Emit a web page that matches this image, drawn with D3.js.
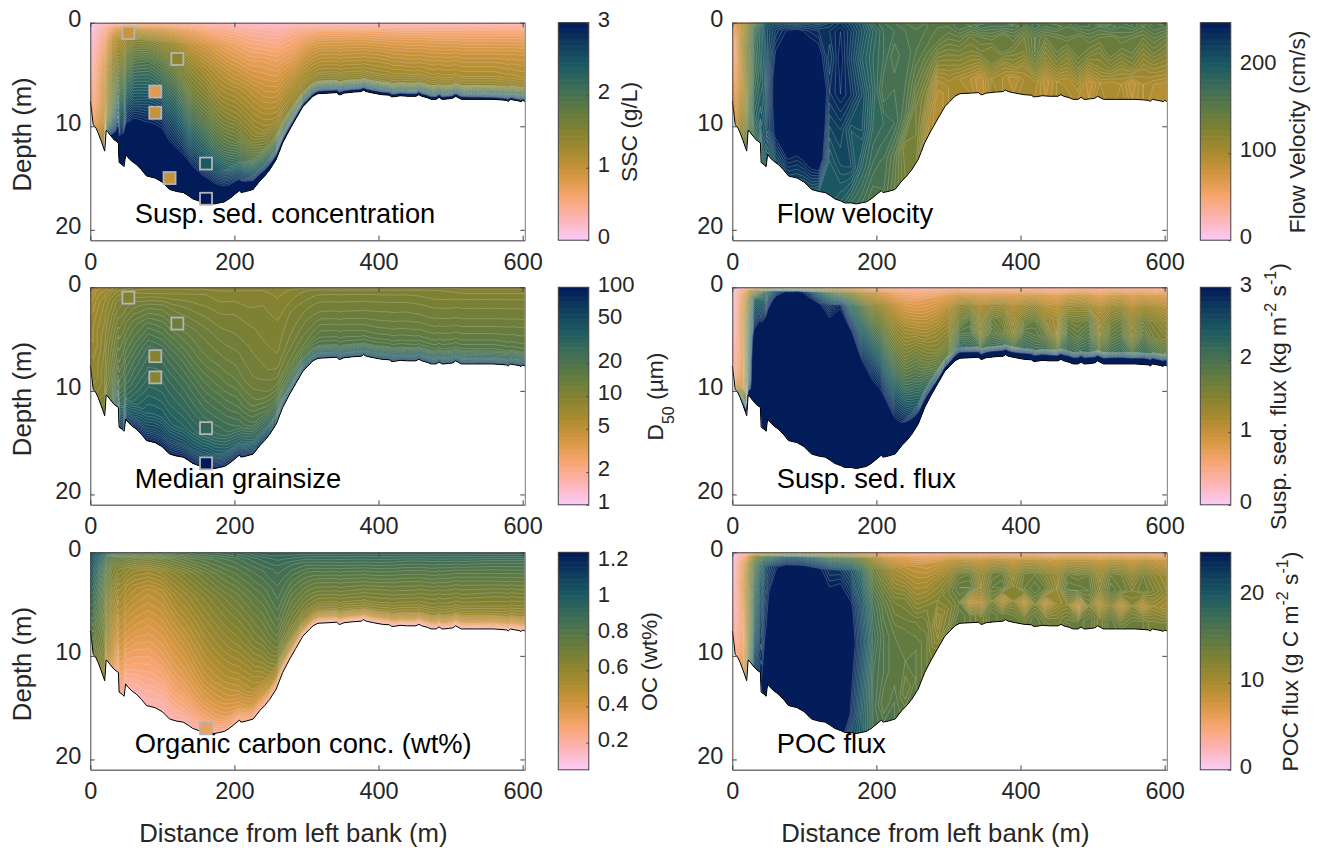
<!DOCTYPE html>
<html>
<head>
<meta charset="utf-8">
<script src="https://cdnjs.cloudflare.com/ajax/libs/d3/7.8.5/d3.min.js"></script>
<style>
body { margin: 0; background: #fff; }
text { font-family: "Liberation Sans", sans-serif; }
</style>
</head>
<body>
<div id="chart"></div>
<script>
// river bed
var bedDist = [0,2,4,8,11,15,20,22,24,27,33,39,40,44,47,49,52,58,64,71,78,90,100,110,120,129,136,142,150,156,165,172,179,186,193,200,207,209,216,226,235,242,249,258,262,267,276,285,295,302,309,316,330,342,345,347,352,365,376,379,383,393,405,415,418,422,430,440,452,456,460,468,473,480,484,488,491,497,503,507,515,530,545,559,570,578,580,583,590,595,598,600,603];
var bedDepth = [7.6,8.6,9.85,10.2,10.66,11.4,12.4,10.4,10.5,10.8,11.3,11.6,13.5,13.7,13.9,12.7,13,13.4,13.7,14.2,14.8,15,15.4,16.1,16.3,16.4,16.7,17,17.2,17.4,17.4,17.5,17.4,17.3,17,16.6,16.2,16.4,16.3,16.1,15.3,14.8,14.2,13.2,12.5,11.6,10.4,9.3,8.1,7.6,7.1,6.85,6.8,6.75,6.95,6.95,6.8,6.7,6.65,6.5,6.65,6.8,6.95,7,7.15,7.15,7.05,7.1,7.1,6.95,7.1,7.25,7.4,7.4,7.2,7.4,7.4,7.35,7.3,7.1,7.4,7.4,7.4,7.4,7.45,7.5,7.6,7.4,7.5,7.55,7.65,7.5,7.6];

// stations and relative depths (0 surface, 1 bed) of the value tables
var coarseStations = [0,10,20,30,40,60,80,100,120,140,160,180,200,220,240,260,280,300,320,360,400,440,480,520,560,603];
var coarseLevels = [0,.04,.12,.25,.4,.55,.7,.82,.92,1];
var fineStations = [0,15,30,45,60,75,90,105,120,135,150,165,180,195,210,225,240,255,270,285,300,315,330,345,360,375,390,405,420,435,450,465,480,495,510,525,540,555,570,585,603];
var velocityLevels = [0,.05,.2,.4,.6,.8,1];
var ssfLevels = [0,.03,.1,.25,.45,.65,.85,.93,1];
var pocLevels = [0,.03,.1,.3,.5,.7,.9,1];

var sscValues = [
[.03,.06,.1,.15,.2,.25,.32,.4,.45,.5],
[.12,.2,.3,.42,.55,.62,.68,.75,.85,1.1],
[.2,.35,.55,.75,.9,1,1.05,1.1,1.3,1.8],
[.3,.6,.95,1.15,1.35,1.5,1.7,2,2.5,3.2],
[.35,.8,1.15,1.4,1.7,2.05,2.5,3,3.4,3.6],
[.45,.95,1.45,1.85,2.2,2.55,3,3.4,3.6,3.6],
[.45,.9,1.5,1.95,2.3,2.7,3.1,3.5,3.6,3.6],
[.45,.85,1.35,1.8,2.2,2.65,3.05,3.4,3.6,3.6],
[.4,.75,1.2,1.55,2,2.4,2.8,3.2,3.6,3.6],
[.35,.65,1,1.35,1.65,2.05,2.5,3,3.5,3.6],
[.3,.55,.9,1.2,1.5,1.85,2.3,2.75,3.3,3.6],
[.28,.48,.75,1.05,1.3,1.6,2,2.5,3.05,3.6],
[.25,.42,.65,.9,1.2,1.45,1.8,2.2,2.9,3.6],
[.22,.38,.55,.8,1.1,1.3,1.55,1.95,2.7,3.6],
[.22,.35,.5,.75,.95,1.15,1.35,1.7,2.4,3.5],
[.2,.3,.45,.65,.85,1.05,1.25,1.55,2.2,3.4],
[.22,.34,.5,.65,.85,1.05,1.25,1.45,2.1,3.3],
[.24,.36,.55,.75,.95,1.1,1.25,1.45,2.2,3.3],
[.24,.38,.6,.8,1,1.15,1.3,1.5,2.4,3.4],
[.24,.38,.6,.82,1,1.15,1.3,1.5,2.4,3.4],
[.24,.38,.6,.8,1,1.15,1.28,1.48,2.4,3.4],
[.24,.38,.58,.78,.96,1.1,1.25,1.45,2.3,3.4],
[.24,.38,.58,.78,.95,1.1,1.22,1.45,2.3,3.4],
[.24,.38,.58,.76,.94,1.08,1.2,1.4,2.3,3.4],
[.26,.39,.58,.76,.94,1.08,1.2,1.4,2.2,3.3],
[.27,.4,.58,.76,.94,1.05,1.15,1.35,2.1,3.2]
];
var d50Values = [
[5,5.5,6,6.5,7,7,7.5,8,8,8.5],
[6,6.5,7,7.5,8,8,8.5,8.5,9,9.5],
[6.5,7,8,8.5,9,9.5,10,10,11,12],
[7,8,9,10,11,12,13,14,16,20],
[8,9,10.5,12,14,16,19,24,40,70],
[8.5,10,12,15,18,22,26,32,50,90],
[9,10,13,18,24,28,34,40,60,100],
[9,10,13,17,23,28,33,40,60,100],
[9,10,12,15,20,25,30,36,55,100],
[9,10,11.5,14,17,22,27,33,50,100],
[9,10,11,13,15,19,24,30,48,100],
[9,9.5,10.5,12,14,17,22,27,42,100],
[9,9.5,10.5,11.5,13,15,19,24,38,90],
[9,9.5,10,11,12,13,16,21,34,80],
[9,9.5,10,10.5,11,12,14,19,30,70],
[8.5,9,9.5,10,10.5,11,13,17,26,60],
[9,9.5,10,11,11.5,12.5,14,18,26,60],
[9,10,10.5,11.5,12.5,13.5,15,19,30,60],
[9,10,11,12,13,15,17,20,34,70],
[9,10,11,12,13,15,17,20,34,70],
[9,10,11,12,13,14.5,16.5,20,34,70],
[9,10,11,12,13,14.5,16.5,20,34,70],
[9,10,10.5,11.5,12.5,14,16,19,32,70],
[9,9.5,10.5,11.5,12.5,14,16,19,32,70],
[9,9.5,10.5,11.5,12.5,14,16,19,30,65],
[9,9.5,10.5,11.5,12.5,14,15.5,18,30,65]
];
var ocValues = [
[1.15,1.1,1.05,1,.95,.9,.86,.82,.8,.78],
[1.05,1,.95,.9,.85,.8,.76,.72,.7,.68],
[1,.9,.82,.76,.72,.68,.66,.62,.58,.54],
[.95,.8,.7,.66,.6,.56,.52,.48,.42,.35],
[.9,.75,.65,.58,.52,.46,.4,.33,.27,.22],
[.85,.72,.6,.52,.46,.4,.33,.28,.22,.18],
[.82,.7,.58,.48,.42,.36,.3,.25,.2,.17],
[.85,.72,.6,.5,.44,.38,.32,.26,.2,.17],
[.85,.75,.64,.56,.49,.42,.36,.3,.24,.18],
[.86,.78,.68,.6,.53,.47,.4,.34,.26,.18],
[.88,.8,.72,.64,.58,.52,.46,.38,.3,.2],
[.88,.82,.76,.68,.62,.56,.49,.42,.34,.22],
[.9,.84,.79,.72,.66,.6,.53,.46,.37,.22],
[.92,.87,.82,.76,.7,.64,.56,.5,.4,.22],
[.95,.9,.85,.8,.75,.7,.62,.54,.42,.22],
[.95,.92,.88,.85,.82,.78,.72,.64,.5,.2],
[.95,.92,.87,.82,.77,.73,.68,.6,.46,.2],
[.95,.92,.87,.81,.76,.71,.66,.58,.44,.18],
[.95,.92,.88,.82,.76,.71,.65,.58,.42,.16],
[.95,.92,.88,.82,.76,.71,.65,.58,.42,.14],
[.95,.92,.88,.82,.76,.7,.65,.58,.42,.14],
[.95,.92,.87,.81,.75,.7,.64,.57,.41,.14],
[.95,.92,.87,.81,.75,.69,.64,.57,.4,.14],
[.95,.92,.87,.8,.74,.69,.63,.56,.4,.14],
[.95,.92,.86,.8,.74,.68,.63,.56,.39,.14],
[.95,.92,.86,.8,.74,.68,.62,.55,.38,.14]
];
var velocityValues = [
[60,50,35,35,45,55,70],
[90,95,105,100,95,110,130],
[140,165,175,170,180,190,170],
[200,210,205,200,205,215,190],
[215,230,245,260,260,250,215],
[220,245,265,270,270,265,225],
[215,250,260,270,275,255,220],
[220,240,265,275,275,265,215],
[215,235,255,270,280,270,205],
[225,235,225,235,220,205,205],
[235,245,250,245,225,215,195],
[220,230,225,235,205,215,180],
[205,210,200,215,210,190,170],
[180,190,185,190,185,175,160],
[170,175,175,165,180,170,165],
[165,170,160,170,175,155,150],
[160,165,170,165,160,130,135],
[155,160,160,150,135,135,130],
[160,160,155,140,125,110,100],
[155,155,150,125,100,90,90],
[155,155,145,130,115,100,100],
[165,165,150,135,120,100,105],
[155,160,140,130,115,95,100],
[160,170,145,135,110,85,85],
[165,165,150,130,130,105,110],
[170,165,140,145,115,100,100],
[150,165,150,135,120,90,95],
[160,155,135,130,110,100,105],
[165,170,150,150,130,105,100],
[160,160,140,125,110,85,90],
[150,165,145,140,125,100,100],
[160,155,150,130,115,95,105],
[170,165,140,145,130,105,95],
[165,165,150,135,110,85,90],
[150,160,145,130,120,100,105],
[155,170,140,145,125,95,95],
[165,160,150,135,115,100,105],
[165,165,145,140,125,85,90],
[150,155,140,125,110,100,100],
[160,165,150,135,115,95,90],
[155,160,140,125,110,90,90]
];
var ssfValues = [
[.03,.04,.06,.1,.15,.22,.3,.35,.9],
[.35,.6,.8,.9,.85,.8,.9,1.6,3.2],
[.6,1.3,2.2,2.6,3.2,3.5,3.6,3.6,3.6],
[.8,2,2.4,3.1,3.6,3.6,3.6,3.6,3.6],
[.9,2.7,3.2,3.6,3.6,3.6,3.6,3.6,3.6],
[1,3,3.3,3.6,3.6,3.6,3.6,3.6,3.6],
[1,3.1,3.3,3.6,3.6,3.6,3.6,3.6,3.6],
[.9,2.8,3.2,3.6,3.6,3.6,3.6,3.6,3.6],
[.85,2.3,3,3.6,3.6,3.6,3.6,3.6,3.6],
[.8,1.9,2.7,3.2,3.6,3.6,3.6,3.6,3.6],
[.8,1.7,2.9,3.3,3.6,3.6,3.6,3.6,3.6],
[.7,1.4,2.2,3,3.5,3.6,3.6,3.6,3.6],
[.6,1.1,1.8,2.4,3.1,3.6,3.6,3.6,3.6],
[.5,.95,1.4,2,2.7,3.3,3.6,3.6,3.6],
[.45,.8,1.2,1.7,2.3,3,3.6,3.6,3.6],
[.4,.65,1,1.4,1.9,2.5,3.2,3.6,3.6],
[.35,.55,.8,1.2,1.6,2.1,2.8,3.4,3.6],
[.35,.5,.75,1.1,1.6,2,2.5,3.1,3.6],
[.35,.5,.75,1,1.35,1.7,2.2,2.9,3.6],
[.35,.5,.75,1,1.3,1.5,1.9,2.6,3.6],
[.35,.55,.8,1.1,1.3,1.5,1.8,2.7,3.6],
[.4,.6,.9,1.35,1.6,1.9,2.3,3.1,3.6],
[.4,.55,.9,1.4,1.8,1.9,2.2,3.1,3.6],
[.4,.5,.8,1.15,1.35,1.45,2,3,3.6],
[.4,.55,.85,1.3,1.7,1.85,2.15,3.1,3.6],
[.4,.55,.85,1.3,1.6,1.7,2.1,3.1,3.6],
[.4,.5,.8,1.1,1.3,1.4,1.9,3,3.6],
[.4,.55,.85,1.25,1.6,1.9,2.2,3.1,3.6],
[.4,.55,.9,1.35,1.75,1.85,2.1,3.1,3.6],
[.4,.5,.8,1.1,1.4,1.7,2.1,3.1,3.6],
[.4,.5,.75,1.05,1.25,1.3,1.8,3,3.6],
[.4,.55,.9,1.3,1.7,1.9,2.2,3.1,3.6],
[.45,.6,.95,1.35,1.65,1.8,2.1,3.1,3.6],
[.45,.6,.9,1.3,1.75,1.95,2.2,3.1,3.6],
[.45,.5,.75,1.1,1.3,1.4,1.8,3,3.6],
[.45,.6,.9,1.3,1.6,1.8,2.1,3.1,3.6],
[.45,.6,.95,1.35,1.7,1.9,2.2,3.1,3.6],
[.45,.55,.8,1.1,1.35,1.45,1.9,3,3.6],
[.45,.6,.9,1.3,1.65,1.85,2.15,3.1,3.6],
[.45,.55,.85,1.2,1.5,1.6,2,3,3.6],
[.45,.55,.8,1.1,1.35,1.5,1.8,2.9,3.6]
];
var pocValues = [
[.3,.4,.6,.9,1.3,1.8,2.5,3],
[2,4,6,7,6,5,6,7],
[5,11,15,17,18,19,21,22],
[7,16,21,23,24,25,26,26],
[7,18,24,27,27,27,27,27],
[8,20,26,29,29,29,29,29],
[8,20,26,29,29,29,29,29],
[8,19,26,29,29,29,29,29],
[7,18,25,28,29,29,29,29],
[7,16,23,26,29,29,29,29],
[7,16,23,27,28,29,29,26],
[7,15,21,25,26,25,24,22],
[6,13,18,21,22,21,20,20],
[5,10,14,17,18,17,17,17],
[4.5,8,12,15,16,16,15,16],
[4,7,10,13.5,15,15,16,16],
[4,6.5,9,13,14.5,15,14,15],
[3.5,6,8.5,11,14,15,15,15],
[3.5,5.5,8,10.5,13,14,14,14],
[3.5,5.5,8,11,12.5,11,12,13],
[3.5,6,8.5,11.5,13.5,12.5,13,14],
[4,6,9,13.5,15,14,15,15],
[4,5.5,8.5,14,15,8.5,14,14],
[3.5,5.5,8,11,11.5,9,13,13],
[4,6,9,13.5,14.5,13,15,15],
[4,6,9,14,15,9,14,14],
[3.5,5.5,8,11,12,12,14,14],
[4,6,9,13.5,14,8.5,13,14],
[4,6,9,14,15,13,15,15],
[3.5,5.5,8.5,12.5,14,8.5,13,14],
[3.5,5.5,8,11,11.5,11,13,13],
[4,6,9,14,15,12,14,15],
[4,6,9,13.5,15,8,14,14],
[4,6,9,14,14.5,13,15,15],
[3.5,5.5,8,11,12,9,13,13],
[4,6,9,14,15,12,15,15],
[4,6,9,13.5,14,8.5,13,14],
[3.5,5.5,8,11.5,13,12,14,14],
[4,6,9,13.5,14,9,14,14],
[3.5,5.5,8.5,12,13,11,13,13],
[4,5.5,8,11,11.5,10,13,13]
];

// bottle samples: distance, depth, value
var sscSamples = [[52.8,1,.95],[120.8,3.5,1.4],[90.2,6.65,.8],[90.2,8.7,1],[110,15,1],[160.6,13.6,2.4],[160.6,17,3]];
var d50Samples = [[52.8,1,10],[120.8,3.5,13],[90.2,6.65,10],[90.2,8.7,9.5],[160.6,13.6,30],[160.6,17,100]];
var ocSamples = [[160.6,17,.33]];

var batlowColors = ["#FACCFA","#FDB4B4","#F7A570","#D5963F","#A98B2F","#828231","#5F7A41","#3D6D56","#1C5A62","#0F3D5E","#011959"];

var xTicks = [0,200,400,600], depthTicks = [0,10,20];
var WIDTH = 1320, HEIGHT = 852;
var colLeft = [90.3, 732.3], axW = 434.5;
var rowTop = [22.7, 287.3, 552.3], axH = 217.5;
var cbarLeft = [558.3, 1200.3], cbarW = 30.5;

var panels = [
  {col:0,row:0,title:"Susp. sed. concentration",stations:coarseStations,levels:coarseLevels,table:sscValues,scale:d3.scaleLinear().domain([0,3]).range([0,1]),ticks:[0,1,2,3],label:["SSC (g/L)"],labelX:636.7,samples:sscSamples,n:60},
  {col:0,row:1,title:"Median grainsize",stations:coarseStations,levels:coarseLevels,table:d50Values,scale:d3.scaleLog().domain([1,100]).range([0,1]),ticks:[1,2,5,10,20,50,100],label:["D",{sub:"50"}," (µm)"],labelX:663.3,samples:d50Samples,n:60},
  {col:0,row:2,title:"Organic carbon conc. (wt%)",stations:coarseStations,levels:coarseLevels,table:ocValues,scale:d3.scaleLinear().domain([.05,1.25]).range([0,1]),ticks:[.2,.4,.6,.8,1,1.2],label:["OC (wt%)"],labelX:657.3,samples:ocSamples,n:60},
  {col:1,row:0,title:"Flow velocity",stations:fineStations,levels:velocityLevels,table:velocityValues,scale:d3.scaleLinear().domain([0,250]).range([0,1]),ticks:[0,100,200],label:["Flow Velocity (cm/s)"],labelX:1305,samples:[],n:50},
  {col:1,row:1,title:"Susp. sed. flux",stations:fineStations,levels:ssfLevels,table:ssfValues,scale:d3.scaleLinear().domain([0,3]).range([0,1]),ticks:[0,1,2,3],label:["Susp. sed. flux (kg m",{sup:"-2"}," s",{sup:"-1"},")"],labelX:1285.7,samples:[],n:60},
  {col:1,row:2,title:"POC flux",stations:fineStations,levels:pocLevels,table:pocValues,scale:d3.scaleLinear().domain([0,25]).range([0,1]),ticks:[0,10,20],label:["POC flux (g C m",{sup:"-2"}," s",{sup:"-1"},")"],labelX:1298.3,samples:[],n:50}
];

var colormap = d3.scaleLinear()
    .domain(d3.range(batlowColors.length).map(function(i) {return i/(batlowColors.length-1);}))
    .range(batlowColors)
    .clamp(true);

var bedAt = d3.scaleLinear().domain(bedDist).range(bedDepth).clamp(true);

var svg = d3.select("#chart").append("svg")
    .attr("width", WIDTH)
    .attr("height", HEIGHT);

var INK = "#262626";

function styleAxis(g, size) {
  g.selectAll("path").attr("stroke", "#444").attr("stroke-width", 1);
  g.selectAll("line").attr("stroke", "#444").attr("stroke-width", 1);
  g.selectAll("text").attr("fill", INK).style("font-size", size+"px").style("font-family", '"Liberation Sans"');
}

panels.forEach(function(p, pi) {
  var left = colLeft[p.col], top = rowTop[p.row];
  var x = d3.scaleLinear().domain([0,603]).range([left, left+axW]);
  var y = d3.scaleLinear().domain([0,21]).range([top, top+axH]);
  var g = svg.append("g");
  var clipId = "bed"+pi;

  var bedArea = d3.area()
      .x(function(d) {return x(d[0]);})
      .y0(y(0))
      .y1(function(d) {return y(d[1]);});
  var bedPoints = bedDist.map(function(d,i) {return [d, bedDepth[i]];});
  g.append("clipPath").attr("id", clipId).append("path").attr("d", bedArea(bedPoints));

  // turn the table into a grid for d3.contours, normalised to the colour range
  var nx = p.table.length, ny = p.levels.length;
  var grid = [];
  for (var j=0; j<ny; j++) for (var i=0; i<nx; i++) grid.push(p.scale(p.table[i][j]));
  var stationScale = d3.scaleLinear().domain(d3.range(nx)).range(p.stations).clamp(true);
  var levelScale = d3.scaleLinear().domain(d3.range(ny)).range(p.levels).clamp(true);

  function project(pt) {
    var dist = stationScale(pt[0]-0.5);
    return [x(dist), y(levelScale(pt[1]-0.5)*bedAt(dist))];
  }
  // cut long edges so that the contours bend with the bed
  function ringPath(ring) {
    var pts = [];
    for (var k=0; k<ring.length-1; k++) {
      var a = ring[k], b = ring[k+1];
      var d0 = stationScale(a[0]-0.5), d1 = stationScale(b[0]-0.5);
      var steps = Math.max(1, Math.ceil(Math.abs(d1-d0)/2));
      for (var s=0; s<steps; s++) {
        pts.push(project([a[0]+(b[0]-a[0])*s/steps, a[1]+(b[1]-a[1])*s/steps]));
      }
    }
    return "M"+pts.map(function(q) {return q[0].toFixed(1)+","+q[1].toFixed(1);}).join("L")+"Z";
  }

  var step = 1/p.n;
  var thresholds = d3.range(p.n).map(function(i) {return i*step;});
  var bands = d3.contours().size([nx,ny]).thresholds(thresholds)(grid);

  var field = g.append("g").attr("clip-path", "url(#"+clipId+")");
  field.selectAll("path")
      .data(bands)
      .enter().append("path")
      .attr("d", function(b) {
        return b.coordinates.map(function(poly) {return poly.map(ringPath).join("");}).join("");
      })
      .attr("fill-rule", "evenodd")
      .attr("fill", function(b) {return colormap(b.value+step/2);})
      .attr("stroke", "rgba(235,235,235,0.45)")
      .attr("stroke-width", 0.5);

  // bed line
  g.append("path")
      .attr("d", d3.line().x(function(d) {return x(d[0]);}).y(function(d) {return y(d[1]);})(bedPoints))
      .attr("fill", "none").attr("stroke", "#000").attr("stroke-width", 1);

  // samples
  g.selectAll("rect.sample")
      .data(p.samples)
      .enter().append("rect")
      .attr("class", "sample")
      .attr("x", function(d) {return x(d[0])-6;})
      .attr("y", function(d) {return y(d[1])-6;})
      .attr("width", 12).attr("height", 12)
      .attr("fill", function(d) {return colormap(p.scale(d[2]));})
      .attr("stroke", "#b4b4b4").attr("stroke-width", 1.8);

  // axes, box with ticks pointing in
  var axB = g.append("g").attr("transform", "translate(0,"+(top+axH)+")")
      .call(d3.axisBottom(x).tickValues(xTicks).tickSizeInner(-4.5).tickSizeOuter(0).tickPadding(13).tickFormat(d3.format("d")));
  styleAxis(axB, 23.5);
  axB.select("path").attr("stroke", "#777").attr("stroke-width", 1.6);
  var axT = g.append("g").attr("transform", "translate(0,"+top+")")
      .call(d3.axisTop(x).tickValues(xTicks).tickSizeInner(-4.5).tickSizeOuter(0).tickFormat(""));
  styleAxis(axT, 23.5);
  var axL = g.append("g").attr("transform", "translate("+left+",0)")
      .call(d3.axisLeft(y).tickValues(depthTicks).tickSizeInner(-4.5).tickSizeOuter(0).tickPadding(9));
  styleAxis(axL, 23.5);
  axL.selectAll("text").attr("dy", "0.16em");
  var axR = g.append("g").attr("transform", "translate("+(left+axW)+",0)")
      .call(d3.axisRight(y).tickValues(depthTicks).tickSizeInner(-4.5).tickSizeOuter(0).tickFormat(""));
  styleAxis(axR, 23.5);
  axR.select("path").attr("stroke", "#777");

  // only the left column carries the depth title
  if (p.col == 0) {
    g.append("text")
        .attr("x", left-66).attr("y", top+axH/2+3)
        .attr("transform", "rotate(-90,"+(left-66)+","+(top+axH/2+3)+")")
        .attr("text-anchor", "middle").attr("dominant-baseline", "middle")
        .attr("fill", INK).style("font-size", "25.7px").text("Depth (m)");
  }

  if (p.row == 2) {
    g.append("text")
        .attr("x", left+203).attr("y", 841.5)
        .attr("text-anchor", "middle")
        .attr("fill", INK).style("font-size", "25.7px").text("Distance from left bank (m)");
  }

  g.append("text")
      .attr("x", left+44.5).attr("y", top+200.5)
      .attr("fill", "#000").style("font-size", "27.3px").text(p.title);

  // colour bar
  var cl = cbarLeft[p.col];
  var cbarY = p.scale.copy().range([top+axH, top]);
  g.selectAll("rect.cbar")
      .data(d3.range(128))
      .enter().append("rect")
      .attr("class", "cbar")
      .attr("x", cl).attr("width", cbarW)
      .attr("y", function(i) {return top+axH*(1-(i+1)/128)-0.3;})
      .attr("height", axH/128+0.6)
      .attr("fill", function(i) {return colormap((i+0.5)/128);});
  g.append("rect").attr("x", cl).attr("y", top).attr("width", cbarW).attr("height", axH)
      .attr("fill", "none").attr("stroke", "#444").attr("stroke-width", 1);
  var axC = g.append("g").attr("transform", "translate("+(cl+cbarW)+",0)")
      .call(d3.axisRight(cbarY).tickValues(p.ticks).tickSizeInner(-2.5).tickSizeOuter(0).tickPadding(9).tickFormat(function(d) {return String(d);}));
  styleAxis(axC, 22);
  axC.select("path").remove();
  axC.selectAll("text").attr("dy", "0.17em");

  var lx = p.labelX, ly = top+axH/2+0.5;
  var label = g.append("text")
      .attr("x", lx).attr("y", ly)
      .attr("transform", "rotate(-90,"+lx+","+ly+")")
      .attr("text-anchor", "middle")
      .attr("fill", INK).style("font-size", "22.8px");
  var shift = 0;
  p.label.forEach(function(part) {
    var t = label.append("tspan");
    if (typeof part == "string") {
      t.attr("dy", -shift).text(part); shift = 0;
    } else if (part.sub) {
      t.attr("dy", 11).style("font-size", "16px").text(part.sub); shift = 11;
    } else {
      t.attr("dy", -10).style("font-size", "16px").text(part.sup); shift = -10;
    }
  });
});
</script>
</body>
</html>
